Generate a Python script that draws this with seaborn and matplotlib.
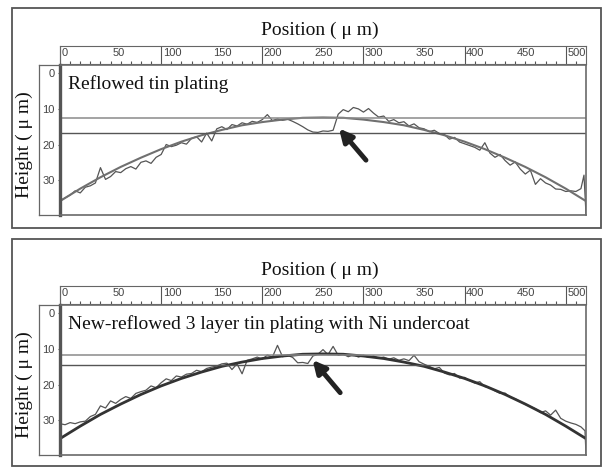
import numpy as np
import pandas as pd
import matplotlib
matplotlib.use("Agg")
import matplotlib.pyplot as plt
import seaborn as sns
from matplotlib.patches import Rectangle
from matplotlib import font_manager as fm

sns.set_style("white")
plt.rcParams["font.family"] = ["Liberation Serif", "DejaVu Serif"]

# ---------------- data ----------------
ruler_ticks = [0, 50, 100, 150, 200, 250, 300, 350, 400, 450, 500]
ruler_labels = ["0", "50", "100", "150", "200", "250", "300", "350", "400", "450", "500"]
height_ticks = [0, 10, 20, 30]
height_labels = ["0", "10", "20", "30"]

fit_x = [0, 20, 40, 60, 80, 100, 120, 140, 160, 180, 200, 220, 240, 260,
         280, 300, 320, 340, 360, 380, 400, 420, 440, 460, 480, 500, 520]
top_fit = [35.9, 32.4, 29.2, 26.3, 23.7, 21.3, 19.2, 17.4, 15.9, 14.6, 13.7, 13.0, 12.5, 12.4,
           12.5, 13.0, 13.7, 14.6, 15.9, 17.4, 19.2, 21.3, 23.7, 26.3, 29.2, 32.4, 35.9]
bot_fit = [35.2, 31.7, 28.4, 25.5, 22.8, 20.4, 18.3, 16.5, 14.9, 13.7, 12.7, 12.0, 11.5, 11.4,
           11.5, 12.0, 12.7, 13.7, 14.9, 16.5, 18.3, 20.4, 22.8, 25.5, 28.4, 31.7, 35.2]

top_x = [0, 5, 10, 15, 20, 25, 30, 35, 40, 45, 50, 55, 60, 65, 70, 75, 80, 85, 90, 95,
         100, 105, 110, 115, 120, 125, 130, 135, 140, 145, 150, 155, 160, 165, 170, 175,
         180, 185, 190, 195, 200, 205, 210, 215, 220, 225, 230, 235, 240, 245, 250, 255,
         260, 265, 270, 275, 280, 285, 290, 295, 300, 305, 310, 315, 320, 325, 330, 335,
         340, 345, 350, 355, 360, 365, 370, 375, 380, 385, 390, 395, 400, 405, 410, 415,
         420, 425, 430, 435, 440, 445, 450, 455, 460, 465, 470, 475, 480, 485, 490, 495,
         500, 505, 510, 515, 518, 520]
top_profile = [35.8, 35.0, 34.2, 33.0, 33.6, 32.0, 31.6, 30.8, 26.5, 29.8, 29.0, 27.6, 27.9,
               26.8, 26.2, 26.9, 25.0, 24.6, 25.3, 23.6, 22.8, 20.0, 20.6, 20.2, 19.5, 19.9,
               18.3, 17.8, 19.3, 16.8, 19.0, 15.6, 15.0, 15.8, 14.4, 14.8, 13.9, 14.3, 13.5,
               13.8, 13.0, 11.6, 13.3, 12.8, 13.2, 12.9, 13.5, 14.2, 15.0, 15.9, 16.5, 16.6,
               16.2, 16.3, 16.0, 11.5, 10.2, 10.8, 9.6, 10.0, 10.9, 9.9, 11.2, 12.3, 12.0,
               13.5, 13.0, 13.9, 13.6, 14.8, 14.2, 15.3, 15.6, 16.4, 16.0, 16.9, 17.2, 18.5,
               18.0, 19.3, 19.8, 20.3, 20.8, 21.6, 19.5, 22.4, 23.6, 22.8, 24.5, 25.8, 24.9,
               26.9, 28.3, 27.2, 31.2, 29.6, 30.8, 31.4, 32.5, 32.6, 33.2, 33.0, 33.2, 32.4,
               28.6, 39.5]

bot_x = [0, 5, 10, 15, 20, 25, 30, 35, 40, 45, 50, 55, 60, 65, 70, 75, 80, 85, 90, 95,
         100, 105, 110, 115, 120, 125, 130, 135, 140, 145, 150, 155, 160, 165, 170, 175,
         180, 185, 190, 195, 200, 205, 210, 215, 220, 225, 230, 235, 240, 245, 250, 255,
         260, 265, 270, 275, 280, 285, 290, 295, 300, 305, 310, 315, 320, 325, 330, 335,
         340, 345, 350, 355, 360, 365, 370, 375, 380, 385, 390, 395, 400, 405, 410, 415,
         420, 425, 430, 435, 440, 445, 450, 455, 460, 465, 470, 475, 480, 485, 490, 495,
         500, 505, 510, 515, 519, 520]
bot_profile = [31.0, 31.3, 30.7, 31.0, 30.5, 30.3, 29.0, 28.4, 26.0, 26.6, 24.6, 25.3, 24.2,
               23.4, 23.9, 22.5, 22.0, 21.6, 20.4, 20.9, 19.5, 18.4, 18.9, 17.6, 17.9, 17.1,
               16.9, 16.0, 16.4, 15.5, 15.1, 14.8, 14.2, 14.0, 15.8, 14.2, 17.0, 13.2, 12.8,
               12.3, 12.9, 11.7, 12.3, 9.0, 12.2, 11.8, 12.4, 13.9, 13.8, 14.1, 12.0, 11.5,
               10.2, 11.6, 9.3, 11.8, 11.5, 12.2, 11.6, 12.3, 11.8, 12.4, 12.0, 12.6, 12.3,
               12.9, 12.5, 13.2, 12.8, 13.3, 11.8, 13.6, 14.3, 14.9, 15.6, 15.2, 16.8, 17.3,
               16.9, 18.2, 18.0, 18.9, 19.6, 19.2, 20.6, 20.9, 21.8, 22.5, 22.4, 23.6, 24.0,
               24.8, 25.6, 26.2, 26.8, 27.9, 27.4, 28.6, 27.2, 29.5, 30.3, 30.8, 31.2, 31.9,
               33.0, 39.5]

top_levels = [12.5, 16.7]
bot_levels = [11.7, 14.5]
top_arrow = [(275.8, 15.5), (302.5, 24.4)]   # (tip, tail)
bot_arrow = [(249.7, 13.1), (277.0, 22.3)]
top_title = "Reflowed tin plating"
bot_title = "New-reflowed 3 layer tin plating with Ni undercoat"

# ---------------- layout ----------------
W, H = 607, 472
fig = plt.figure(figsize=(W / 100, H / 100), dpi=100)

_names = {f.name for f in fm.fontManager.ttflist}
if "Liberation Sans Narrow" in _names:
    NARROW = dict(family=["Liberation Sans Narrow", "DejaVu Sans"], fontsize=9)
else:
    NARROW = dict(family=["Liberation Sans", "DejaVu Sans"], fontsize=8)


def ax_px(x0, y0, x1, y1):
    return fig.add_axes([x0 / W, 1 - y1 / H, (x1 - x0) / W, (y1 - y0) / H])


def panel(off, frame, prof_x, prof_y, fit_y, levels, arrow, title, fit_color, fit_lw):
    # outer frame
    fig.patches.append(Rectangle((12 / W, 1 - frame[1] / H), (601 - 12) / W,
                                 (frame[1] - frame[0]) / H,
                                 transform=fig.transFigure, fill=False, ec="#555555", lw=1.3))
    fig.text(320 / W, 1 - (30 + off) / H, "Position ( \u03bc m)", ha="center", va="center",
             fontsize=14, color="#111111")
    fig.text(24 / W, 1 - (145 + off) / H, "Height ( \u03bc m)", ha="center", va="center",
             rotation=90, fontsize=14, color="#111111")

    # ruler
    axr = ax_px(60, 46 + off, 586, 64 + off)
    axr.set_xlim(0, 520)
    axr.set_ylim(0, 1)
    axr.set_yticks([])
    axr.set_xticks(list(range(0, 520, 100)))
    axr.set_xticks(list(range(0, 520, 10)), minor=True)
    axr.tick_params(axis="x", which="major", direction="in", length=13, width=0.8,
                    color="#555555", labelbottom=False, bottom=True)
    axr.tick_params(axis="x", which="minor", direction="in", length=2, width=0.8,
                    color="#555555", bottom=True)
    for s in axr.spines.values():
        s.set_color("#666666")
        s.set_linewidth(0.8)
    for v, lab in zip(ruler_ticks, ruler_labels):
        axr.text(v + 1.5, 0.62, lab, ha="left", va="center", color="#444444", **NARROW)

    # y box
    axy = ax_px(39, 65 + off, 60, 215 + off)
    axy.set_xticks([])
    axy.set_yticks([])
    for s in axy.spines.values():
        s.set_color("#666666")
        s.set_linewidth(0.9)

    # main
    ax = ax_px(60, 65 + off, 586, 215 + off)
    ax.set_facecolor("white")
    df = pd.DataFrame({"x": prof_x, "y": prof_y})
    sns.lineplot(data=df, x="x", y="y", ax=ax, color="#555555", lw=0.9,
                 sort=False, estimator=None)
    dff = pd.DataFrame({"x": fit_x, "y": fit_y})
    sns.lineplot(data=dff, x="x", y="y", ax=ax, color=fit_color, lw=fit_lw,
                 sort=False, estimator=None)
    ax.axhline(levels[0], color="#8a8a8a", lw=1.1)
    ax.axhline(levels[1], color="#555555", lw=1.0)
    ax.set_xlim(0, 520)
    ax.set_ylim(39.8, -2.33)
    ax.set_xticks([])
    ax.set_yticks(height_ticks)
    ax.set_yticklabels(height_labels, color="#444444", **NARROW)
    ax.tick_params(axis="y", direction="out", length=1.8, width=0.8, pad=2,
                   color="#555555", left=True)
    ax.set_xlabel("")
    ax.set_ylabel("")
    for k, s in ax.spines.items():
        s.set_color("#6a6a6a")
        s.set_linewidth(1.2)
    ax.spines["left"].set_linewidth(2.4)
    ax.spines["left"].set_color("#555555")
    ax.text(0.015, 0.87, title, transform=ax.transAxes, ha="left", va="center",
            fontsize=14, color="#111111")
    ax.annotate("", xy=arrow[0], xytext=arrow[1],
                arrowprops=dict(arrowstyle="-|>", color="#222222", lw=3.5,
                                mutation_scale=19, shrinkA=0, shrinkB=0))


panel(0, (8, 228), top_x, top_profile, top_fit, top_levels, top_arrow, top_title, "#707070", 1.5)
panel(240, (239, 466), bot_x, bot_profile, bot_fit, bot_levels, bot_arrow, bot_title, "#333333", 2.0)

fig.savefig("out.png", dpi=100)
